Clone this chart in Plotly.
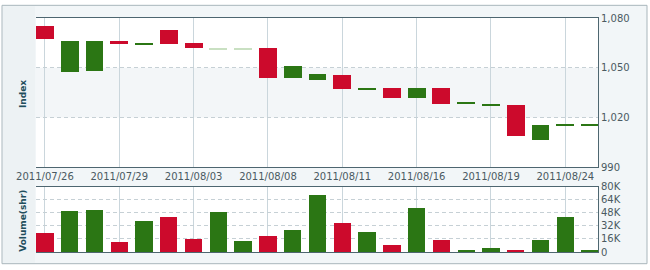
import plotly.graph_objects as go

dates = ["2011/07/26", "2011/07/27", "2011/07/28", "2011/07/29", "2011/08/01",
         "2011/08/02", "2011/08/03", "2011/08/04", "2011/08/05", "2011/08/08",
         "2011/08/09", "2011/08/10", "2011/08/11", "2011/08/12", "2011/08/15",
         "2011/08/16", "2011/08/17", "2011/08/18", "2011/08/19", "2011/08/22",
         "2011/08/23", "2011/08/24", "2011/08/25"]
open_ = [1067.2, 1065.9, 1065.9, 1064.1, 1064.5, 1064.1, 1062.0, 1061.4, 1061.4, 1043.7,
         1051.2, 1046.0, 1037.2, 1037.5, 1031.9, 1037.5, 1028.4, 1028.6, 1027.5, 1009.0,
         1015.5, 1015.5, 1015.5]
close = [1075.3, 1047.6, 1048.2, 1066.1, 1064.5, 1072.9, 1064.7, 1061.4, 1061.4, 1061.8,
         1043.7, 1042.5, 1045.9, 1037.5, 1037.5, 1031.9, 1037.5, 1028.6, 1027.5, 1027.6,
         1006.6, 1015.5, 1015.5]
volume = [24100, 51100, 52300, 12300, 38000, 42800, 15800, 49900, 14300, 20200,
          27300, 70200, 35700, 25000, 9500, 54700, 15500, 2400, 5900, 2400,
          15500, 42800, 2400]
tick_dates = ["2011/07/26", "2011/07/29", "2011/08/03", "2011/08/08", "2011/08/11",
              "2011/08/16", "2011/08/19", "2011/08/24"]
price_ticks = [990, 1020, 1050, 1080]
price_labels = ["990", "1,020", "1,050", "1,080"]
vol_ticks = [0, 16000, 32000, 48000, 64000, 80000]
vol_labels = ["0", "16K", "32K", "48K", "64K", "80K"]

RED = "#cc0a2c"
GREEN = "#2b7614"
PALE = "#c9e0c2"
pale_idx = {7, 8}

up = [c > o for o, c in zip(open_, close)]
candle_colors = []
for i, (o, c) in enumerate(zip(open_, close)):
    if c > o:
        candle_colors.append(RED)
    elif i in pale_idx:
        candle_colors.append(PALE)
    else:
        candle_colors.append(GREEN)
vol_colors = [RED if u else GREEN for u in up]

MIN_H = 0.7
base = []
height = []
for o, c in zip(open_, close):
    h = abs(c - o)
    if h < MIN_H:
        base.append(min(o, c) - (MIN_H - h) / 2)
        height.append(MIN_H)
    else:
        base.append(min(o, c))
        height.append(h)

fig = go.Figure()
fig.add_trace(go.Bar(x=dates, y=height, base=base, marker=dict(color=candle_colors, line=dict(width=0)),
                     width=0.72, xaxis="x2", yaxis="y", showlegend=False, hoverinfo="skip"))
fig.add_trace(go.Bar(x=dates, y=volume, marker=dict(color=vol_colors, line=dict(width=0)),
                     width=0.7, xaxis="x", yaxis="y2", showlegend=False, hoverinfo="skip"))

# geometry (paper fractions)
L, R, T, B = 36, 52, 15, 15
W, H = 650, 270
pw, ph = W - L - R, H - T - B
def px(x):
    return (x - L) / pw
def py(y):
    return (H - B - y) / ph

top_dom = [py(168), 1.0]
bot_dom = [0.0, py(188)]
xr = [-0.36, 22.32]

fnt = dict(family="DejaVu Sans", size=10, color="#4a5a62")
grid_c = "#cad6dc"
axis_c = "#4e6670"

shapes = [
    dict(type="rect", xref="paper", yref="paper", x0=px(2), x1=px(647), y0=py(267), y1=py(2),
         fillcolor="#f2f6f8", line=dict(color="#a9b6bc", width=1), layer="below"),
    dict(type="rect", xref="paper", yref="paper", x0=px(3), x1=px(35), y0=py(266), y1=py(3),
         fillcolor="#edf2f4", line=dict(width=0), layer="below"),
    dict(type="rect", xref="paper", yref="paper", x0=0, x1=1, y0=top_dom[0], y1=top_dom[1],
         fillcolor="white", line=dict(width=0), layer="below"),
    dict(type="rect", xref="paper", yref="y", x0=0, x1=1, y0=1020, y1=1050,
         fillcolor="#f3f6f8", line=dict(width=0), layer="below"),
    dict(type="rect", xref="paper", yref="paper", x0=0, x1=1, y0=bot_dom[0], y1=bot_dom[1],
         fillcolor="white", line=dict(width=0), layer="below"),
]

fig.update_layout(
    width=W, height=H, margin=dict(l=L, r=R, t=T, b=B),
    paper_bgcolor="white", plot_bgcolor="rgba(0,0,0,0)",
    bargap=0, barmode="overlay",
    shapes=shapes,
    xaxis=dict(type="category", categoryorder="array", categoryarray=dates, range=xr,
               anchor="y2", domain=[0, 1], showticklabels=False, ticks="",
               tickvals=tick_dates, showgrid=True, gridcolor=grid_c, gridwidth=1,
               showline=True, linecolor=axis_c, linewidth=1, mirror=True, zeroline=False),
    xaxis2=dict(type="category", categoryorder="array", categoryarray=dates, range=xr,
                anchor="y", domain=[0, 1], matches="x", tickvals=tick_dates, ticktext=tick_dates,
                ticks="", tickfont=fnt, showgrid=True, gridcolor=grid_c, gridwidth=1,
                showline=True, linecolor=axis_c, linewidth=1, mirror=True, zeroline=False),
    yaxis=dict(domain=top_dom, anchor="x2", side="right", range=[990, 1080],
               tickvals=price_ticks, ticktext=price_labels, tickfont=fnt, ticks="",
               showgrid=True, gridcolor="#c6d0d5", griddash="4px,3px", gridwidth=1,
               showline=True, linecolor=axis_c, linewidth=1, zeroline=False),
    yaxis2=dict(domain=bot_dom, anchor="x", side="right", range=[0, 80000],
                tickvals=vol_ticks, ticktext=vol_labels, tickfont=fnt, ticks="",
                showgrid=True, gridcolor="#c6d0d5", griddash="4px,3px", gridwidth=1,
                showline=True, linecolor=axis_c, linewidth=1, zeroline=False),
    annotations=[
        dict(text="<b>Index</b>", xref="paper", yref="paper", x=px(23), y=py(93),
             textangle=-90, showarrow=False, font=dict(family="DejaVu Sans", size=9, color="#1f4e5c"),
             xanchor="center", yanchor="middle"),
        dict(text="<b>Volume(shr)</b>", xref="paper", yref="paper", x=px(23), y=py(223),
             textangle=-90, showarrow=False, font=dict(family="DejaVu Sans", size=9, color="#1f4e5c"),
             xanchor="center", yanchor="middle"),
    ],
)

fig.write_html("out.html")
